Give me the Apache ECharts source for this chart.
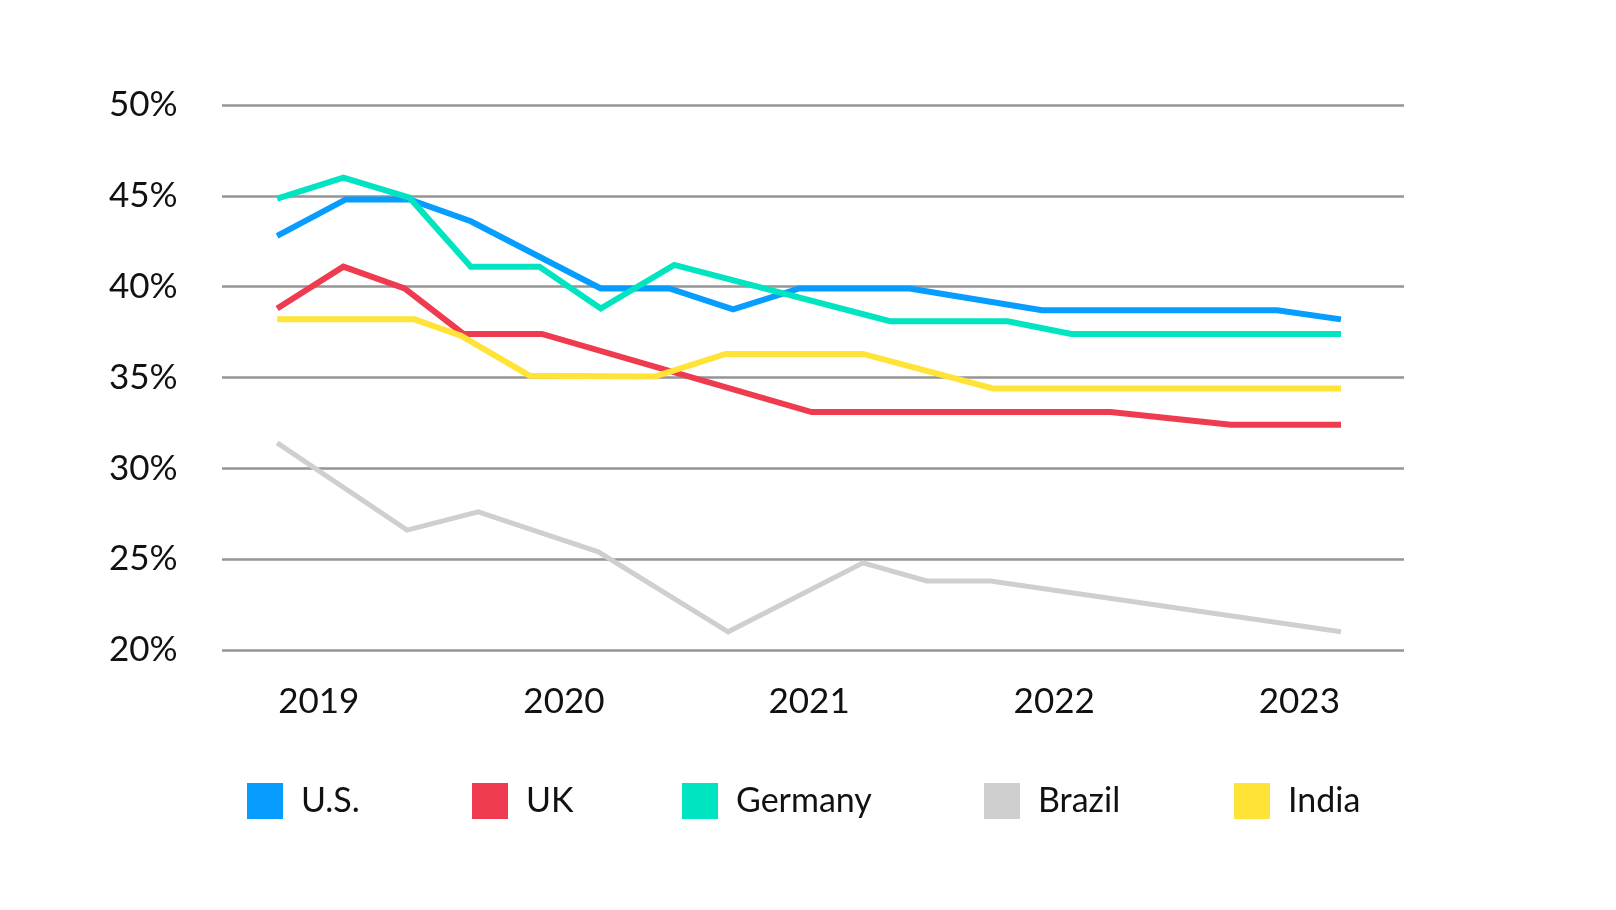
<!DOCTYPE html>
<html>
<head>
<meta charset="utf-8">
<script src="https://cdn.jsdelivr.net/npm/echarts@6/dist/echarts.min.js"></script>
<style>
  html, body { margin: 0; padding: 0; background: #ffffff; }
  #chart { width: 1616px; height: 910px; }
</style>
</head>
<body>
<div id="chart"></div>
<script>
// ---- data (x = fractional year, y = percent) ----
const yearTicks = [2019, 2020, 2021, 2022, 2023];
const seriesNames = ['U.S.', 'UK', 'Germany', 'Brazil', 'India'];
const seriesColors = ['#069dfe', '#ef3b50', '#00e4c1', '#cfcfcf', '#ffe437'];

const usData = [[2018.83,42.8],[2019.11,44.8],[2019.37,44.8],[2019.62,43.6],[2020.15,39.9],[2020.43,39.9],[2020.69,38.75],[2020.96,39.9],[2021.41,39.9],[2021.95,38.7],[2022.91,38.7],[2023.17,38.2]];
const ukData = [[2018.83,38.8],[2019.10,41.1],[2019.35,39.9],[2019.59,37.4],[2019.91,37.4],[2021.01,33.1],[2022.23,33.1],[2022.72,32.4],[2023.17,32.4]];
const germanyData = [[2018.83,44.85],[2019.10,46.0],[2019.37,44.9],[2019.62,41.1],[2019.90,41.1],[2020.15,38.8],[2020.45,41.2],[2021.33,38.1],[2021.81,38.1],[2022.07,37.4],[2023.17,37.4]];
const brazilData = [[2018.83,31.4],[2019.36,26.6],[2019.65,27.6],[2020.14,25.4],[2020.67,21.0],[2021.22,24.8],[2021.48,23.8],[2021.74,23.8],[2023.17,21.0]];
const indiaData = [[2018.83,38.2],[2019.39,38.2],[2019.58,37.3],[2019.86,35.1],[2020.37,35.05],[2020.66,36.3],[2021.22,36.3],[2021.75,34.4],[2023.17,34.4]];

const allData = [usData, ukData, germanyData, brazilData, indiaData];
const lineWidths = [6, 6, 6, 5, 6];
const legendLefts = [247, 472, 682, 984, 1234];

const FONT = 'Lato, "Noto Sans", sans-serif';

const chart = echarts.init(document.getElementById('chart'), null, { renderer: 'canvas' });

const legends = seriesNames.map((n, i) => ({
  data: [n],
  left: legendLefts[i],
  top: 783,
  padding: 0,
  icon: 'rect',
  itemWidth: 36,
  itemHeight: 36,
  selectedMode: false,
  textStyle: { fontFamily: FONT, fontSize: 34, color: '#111', padding: [0, 0, 0, 13] }
}));

const option = {
  backgroundColor: '#ffffff',
  animation: false,
  legend: legends,
  grid: { left: 222, right: 212, top: 105, bottom: 260, containLabel: false },
  xAxis: {
    type: 'value',
    min: 2018.605,
    max: 2023.427,
    axisLine: { show: false },
    axisTick: { show: false },
    splitLine: { show: false },
    axisLabel: {
      customValues: yearTicks,
      formatter: v => String(Math.round(v)),
      fontFamily: FONT,
      fontSize: 35,
      color: '#111',
      margin: 34
    }
  },
  yAxis: {
    type: 'value',
    min: 20,
    max: 50,
    interval: 5,
    axisLine: { show: false },
    axisTick: { show: false },
    splitLine: { show: true, lineStyle: { color: '#959595', width: 2.5 } },
    axisLabel: {
      formatter: '{value}%',
      fontFamily: FONT,
      fontSize: 35,
      color: '#111',
      align: 'left',
      margin: 113
    }
  },
  series: seriesNames.map((n, i) => ({
    name: n,
    type: 'line',
    data: allData[i],
    symbol: 'none',
    smooth: false,
    color: seriesColors[i],
    lineStyle: { color: seriesColors[i], width: lineWidths[i], join: 'miter', cap: 'butt' },
    itemStyle: { color: seriesColors[i] },
    emphasis: { disabled: true }
  }))
};

chart.setOption(option);
</script>
</body>
</html>
